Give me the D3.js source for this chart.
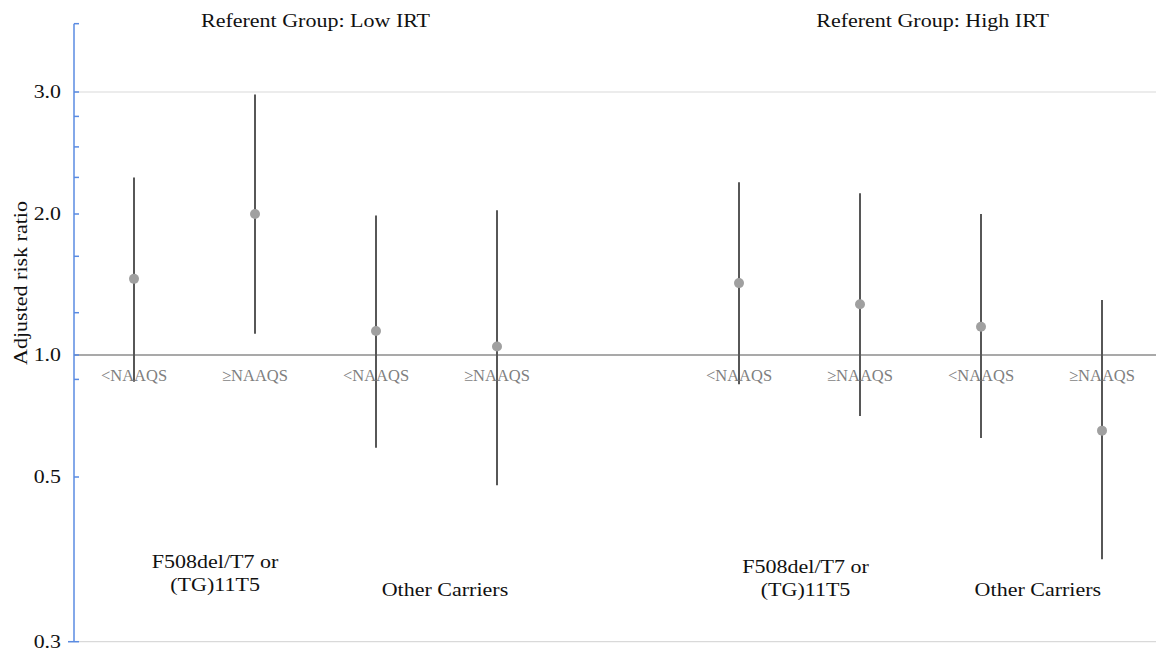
<!DOCTYPE html>
<html>
<head>
<meta charset="utf-8">
<script src="https://cdn.jsdelivr.net/npm/d3@7"></script>
<style>
  html, body { margin: 0; padding: 0; background: #fff; }
  svg { display: block; }
  text { font-family: "Liberation Serif", "Times New Roman", serif; }
</style>
</head>
<body>
<svg id="chart" width="1156" height="654"></svg>
<script>
// ---- data ----
const slotKeys   = ["L1", "L2", "L3", "L4", "gap", "R1", "R2", "R3", "R4"];
const categories = ["L1", "L2", "L3", "L4", "R1", "R2", "R3", "R4"];
const catLabels  = ["<NAAQS", "\u2265NAAQS", "<NAAQS", "\u2265NAAQS", "<NAAQS", "\u2265NAAQS", "<NAAQS", "\u2265NAAQS"];
const estimate   = [1.54, 2.00, 1.17, 1.06, 1.51, 1.36, 1.20, 0.69];
const lowerCI    = [0.89, 1.15, 0.62, 0.49, 0.88, 0.75, 0.66, 0.40];
const upperCI    = [2.30, 2.98, 1.99, 2.03, 2.26, 2.17, 2.00, 1.39];
const yTickValues  = [0.3, 0.5, 1.0, 2.0, 3.0];
const yTickLabels  = ["0.3", "0.5", "1.0", "2.0", "3.0"];
const yMinorTicks  = [0.9, 1.3, 1.7, 2.3, 2.55, 2.8, 3.56];
const panelTitles  = ["Referent Group: Low IRT", "Referent Group: High IRT"];
const groupLabels  = [["F508del/T7 or", "(TG)11T5"], ["Other Carriers"], ["F508del/T7 or", "(TG)11T5"], ["Other Carriers"]];

// ---- layout ----
const svg = d3.select("#chart");
const W = 1156;
const axisX = 74;

const x = d3.scaleBand().domain(slotKeys).range([73.5, 1162.5]).padding(0);
const cx = k => x(k) + x.bandwidth() / 2;
const slotPos = s => x(slotKeys[0]) + x.bandwidth() / 2 + s * x.step();

// piecewise scale through the labelled values (axis is neither linear nor log)
const y = d3.scaleLinear()
  .domain(yTickValues)
  .range([641.7, 477, 355, 214, 92]);

const serifStretch = 1.19;

// gridlines
const grid = svg.append("g");
grid.append("line").attr("x1", axisX).attr("x2", W)
  .attr("y1", y(3.0)).attr("y2", y(3.0))
  .attr("stroke", "#d9d9d9").attr("stroke-width", 1);
grid.append("line").attr("x1", 68).attr("x2", W)
  .attr("y1", y(0.3)).attr("y2", y(0.3))
  .attr("stroke", "#d9d9d9").attr("stroke-width", 1.2);
grid.append("line").attr("x1", axisX).attr("x2", W)
  .attr("y1", y(1.0)).attr("y2", y(1.0))
  .attr("stroke", "#a9a9a9").attr("stroke-width", 2);

// y axis (custom blue axis)
const axisColor = "#5a8be2";
const ax = svg.append("g");
ax.append("line").attr("x1", axisX).attr("x2", axisX)
  .attr("y1", y(3.56)).attr("y2", y(0.3))
  .attr("stroke", axisColor).attr("stroke-width", 1.5);
ax.selectAll("line.maj").data(yTickValues).join("line").attr("class", "maj")
  .attr("x1", d => d === 0.3 ? 68 : axisX).attr("x2", axisX + 5)
  .attr("y1", d => y(d)).attr("y2", d => y(d))
  .attr("stroke", axisColor).attr("stroke-width", 1.5);
ax.selectAll("line.min").data(yMinorTicks).join("line").attr("class", "min")
  .attr("x1", axisX).attr("x2", axisX + 5)
  .attr("y1", d => y(d)).attr("y2", d => y(d))
  .attr("stroke", axisColor).attr("stroke-width", 1.5);
ax.selectAll("text").data(yTickValues).join("text")
  .attr("transform", d => `translate(61,${y(d)}) scale(1.15,1)`)
  .attr("text-anchor", "end").attr("dy", "0.33em")
  .attr("font-size", 19).attr("fill", "#111")
  .text((d, i) => yTickLabels[i]);

// y title
svg.append("text")
  .attr("transform", `translate(20.5,283) rotate(-90) scale(${serifStretch},1)`)
  .attr("text-anchor", "middle").attr("dy", "0.35em")
  .attr("font-size", 18.5).attr("fill", "#111")
  .text("Adjusted risk ratio");

// error bars
const marks = svg.append("g");
marks.selectAll("line.ci").data(categories).join("line").attr("class", "ci")
  .attr("x1", d => cx(d)).attr("x2", d => cx(d))
  .attr("y1", (d, i) => y(lowerCI[i])).attr("y2", (d, i) => y(upperCI[i]))
  .attr("stroke", "#575757").attr("stroke-width", 2);

// category labels
svg.append("g").selectAll("text").data(categories).join("text")
  .attr("x", d => cx(d)).attr("y", 375)
  .attr("text-anchor", "middle").attr("dy", "0.35em")
  .attr("font-size", 16.5).attr("fill", "#7f7f7f")
  .text((d, i) => catLabels[i]);

// points
marks.selectAll("circle").data(categories).join("circle")
  .attr("cx", d => cx(d)).attr("cy", (d, i) => y(estimate[i]))
  .attr("r", 5).attr("fill", "#a0a0a0");

// panel titles
const titleSlots = [1.5, 6.6];
svg.append("g").selectAll("text").data(panelTitles).join("text")
  .attr("transform", (d, i) => `translate(${slotPos(titleSlots[i])},27) scale(${serifStretch},1)`)
  .attr("text-anchor", "middle")
  .attr("font-size", 18.5).attr("fill", "#111")
  .text(d => d);

// group labels
const groupSlots = [0.67, 2.57, 5.55, 7.47];
const groupBase  = [568, 596, 573, 596];
const gl = svg.append("g").selectAll("text").data(groupLabels).join("text")
  .attr("transform", (d, i) => `translate(${slotPos(groupSlots[i])},${groupBase[i]}) scale(${serifStretch},1)`)
  .attr("text-anchor", "middle")
  .attr("font-size", 18.5).attr("fill", "#111");
gl.selectAll("tspan").data(d => d).join("tspan")
  .attr("x", 0).attr("dy", (d, j) => j === 0 ? 0 : 23)
  .text(d => d);
</script>
</body>
</html>
